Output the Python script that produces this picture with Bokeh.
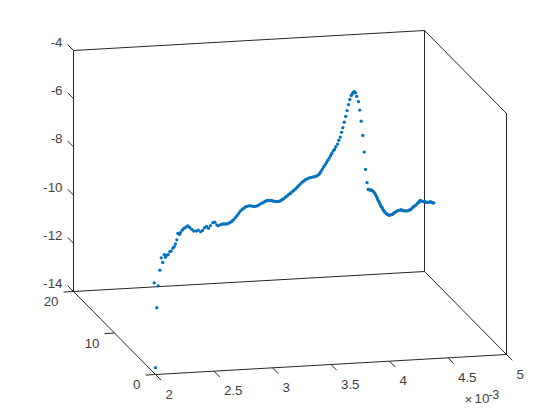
from bokeh.plotting import figure
from bokeh.models import Range1d
from bokeh.core.properties import value
from bokeh.embed import file_html
from bokeh.resources import INLINE

# Series, in x (x 10^-3) and z units of the front-left corner frame
series_x = [2.000,2.011,1.989,2.023,2.037,2.062,2.049,2.074,2.085,2.097,2.109,2.122,2.134,2.148,2.160,2.171,2.182,2.191,2.205,2.214,
2.228,2.242,2.259,2.276,2.293,2.310,2.327,2.348,2.365,2.385,2.402,2.419,2.436,2.453,2.470,2.490,2.507,2.524,2.536,2.556,
2.570,2.584,2.598,2.613,2.626,2.641,2.656,2.669,2.684,2.698,2.712,2.726,2.741,2.755,2.769,2.784,2.799,2.812,2.826,2.840,
2.855,2.869,2.883,2.897,2.912,2.926,2.940,2.955,2.968,2.983,2.997,3.011,3.026,3.040,3.054,3.068,3.083,3.097,3.111,3.126,
3.139,3.154,3.168,3.182,3.197,3.211,3.225,3.239,3.254,3.268,3.282,3.297,3.310,3.325,3.339,3.353,3.368,3.382,3.396,3.406,
3.416,3.427,3.439,3.451,3.462,3.473,3.485,3.496,3.507,3.519,3.530,3.541,3.556,3.567,3.579,3.590,3.601,3.613,3.626,3.637,
3.650,3.661,3.673,3.684,3.692,3.700,3.709,3.720,3.735,3.746,3.758,3.772,3.784,3.795,3.808,3.818,3.829,3.838,3.846,3.855,
3.863,3.872,3.880,3.889,3.895,3.900,3.909,3.915,3.923,3.929,3.938,3.943,3.951,3.957,3.966,3.974,3.983,3.994,4.003,4.015,
4.026,4.037,4.045,4.057,4.068,4.079,4.091,4.100,4.111,4.122,4.134,4.145,4.156,4.165,4.177,4.185,4.197,4.208,4.220,4.228,
4.239,4.248,4.256,4.265,4.276,4.288,4.299,4.308,4.319,4.327,4.339,4.350,4.362,4.370,4.379]
series_z = [-13.72,-11.23,-10.20,-10.32,-9.67,-9.35,-9.16,-9.03,-9.13,-9.05,-9.03,-8.90,-8.88,-8.76,-8.69,-8.58,-8.41,-8.14,-8.19,-8.11,
-8.01,-7.94,-7.89,-7.83,-7.90,-7.98,-8.05,-8.05,-8.01,-8.08,-8.02,-7.91,-7.85,-7.93,-7.82,-7.70,-7.68,-7.79,-7.83,-7.78,
-7.76,-7.75,-7.75,-7.75,-7.72,-7.68,-7.63,-7.57,-7.49,-7.40,-7.31,-7.22,-7.15,-7.10,-7.05,-7.02,-7.00,-7.00,-7.01,-7.03,
-7.02,-7.00,-6.97,-6.92,-6.89,-6.85,-6.81,-6.78,-6.78,-6.78,-6.79,-6.81,-6.82,-6.82,-6.82,-6.79,-6.75,-6.70,-6.64,-6.59,
-6.53,-6.48,-6.42,-6.36,-6.30,-6.23,-6.16,-6.09,-6.02,-5.97,-5.92,-5.88,-5.85,-5.83,-5.81,-5.80,-5.78,-5.75,-5.70,-5.64,
-5.56,-5.47,-5.38,-5.29,-5.20,-5.11,-5.02,-4.92,-4.83,-4.72,-4.66,-4.55,-4.44,-4.28,-4.15,-3.95,-3.76,-3.53,-3.29,-3.05,
-2.80,-2.59,-2.42,-2.34,-2.28,-2.26,-2.31,-2.46,-2.68,-3.03,-3.49,-4.08,-4.77,-5.49,-6.04,-6.32,-6.34,-6.34,-6.35,-6.38,
-6.41,-6.46,-6.53,-6.61,-6.68,-6.75,-6.82,-6.89,-6.96,-7.03,-7.08,-7.14,-7.19,-7.25,-7.29,-7.33,-7.36,-7.39,-7.39,-7.37,
-7.35,-7.31,-7.28,-7.24,-7.21,-7.19,-7.18,-7.16,-7.19,-7.21,-7.21,-7.21,-7.21,-7.19,-7.16,-7.14,-7.08,-7.03,-6.99,-6.96,
-6.90,-6.86,-6.81,-6.78,-6.81,-6.83,-6.83,-6.85,-6.85,-6.86,-6.85,-6.83,-6.86,-6.88,-6.88]

x_ticks = [2, 2.5, 3, 3.5, 4, 4.5, 5]
x_labels = ["2", "2.5", "3", "3.5", "4", "4.5", "5"]
y_ticks = [0, 10, 20]
y_labels = ["0", "10", "20"]
z_ticks = [-14, -12, -10, -8, -6, -4]
z_labels = ["-14", "-12", "-10", "-8", "-6", "-4"]

X0, X1, Y0, Y1, Z0, Z1 = 2, 5, 0, 20, -14, -4
PX_X, PX_Z = 117.0, 24.1

def proj(x, y, z):
    u = x - (y / 20) * (82 / PX_X)
    v = z + (x - 2) * (20 / 3) / PX_Z + (y / 20) * (83 / PX_Z)
    return u, v

p = figure(width=544, height=404, output_backend="svg", toolbar_location=None,
           x_range=Range1d(2 + (0 - 155) / PX_X, 2 + (544 - 155) / PX_X),
           y_range=Range1d(-14 + (374 - 404) / PX_Z, -14 + (374 - 0) / PX_Z),
           x_axis_type=None, y_axis_type=None, min_border=0,
           outline_line_color=None, background_fill_color="white")
p.grid.visible = False

edges = [((X0,Y1,Z1),(X1,Y1,Z1)), ((X0,Y1,Z0),(X0,Y1,Z1)), ((X1,Y1,Z0),(X1,Y1,Z1)),
         ((X1,Y1,Z1),(X1,Y0,Z1)), ((X1,Y0,Z0),(X1,Y0,Z1)), ((X0,Y1,Z0),(X1,Y1,Z0)),
         ((X0,Y1,Z0),(X0,Y0,Z0)), ((X0,Y0,Z0),(X1,Y0,Z0)), ((X1,Y1,Z0),(X1,Y0,Z0))]
for t in x_ticks:
    edges.append(((t,Y0,Z0),(t,Y0-1.4,Z0)))
for t in y_ticks:
    edges.append(((X0,t,Z0),(X0-0.085,t,Z0)))
for t in z_ticks:
    edges.append(((X0,Y1,t),(X0,Y1+1.4,t)))
a = [proj(*e[0]) for e in edges]
b = [proj(*e[1]) for e in edges]
p.segment([q[0] for q in a], [q[1] for q in a], [q[0] for q in b], [q[1] for q in b],
          line_color="#262626", line_width=1)

p.scatter(series_x, series_z, size=3.3, marker="circle", fill_color="#0072BD", line_color=None)

FONT = value("Liberation Sans")
COL = "#404040"
def labels(pts, txt, align, dx, dy, size="13.3px"):
    p.text([q[0] for q in pts], [q[1] for q in pts], text=txt, text_font=FONT, text_font_size=size,
           text_color=COL, text_align=align, text_baseline="middle", x_offset=dx, y_offset=dy)

labels([proj(t, Y0, Z0) for t in x_ticks], x_labels, "left", 10, 19.5)
labels([proj(X0, t, Z0) for t in y_ticks], y_labels, "right", -15, 10)
labels([proj(X0, Y1, t) for t in z_ticks], z_labels, "right", -11, -8)

corner = proj(X1, Y0, Z0)
labels([corner], ["×"], "left", -42, 45)
labels([corner], ["10"], "left", -32, 44)
labels([corner], ["-3"], "left", -18, 40, "12px")

open("out.html", "w").write(file_html(p, INLINE))
